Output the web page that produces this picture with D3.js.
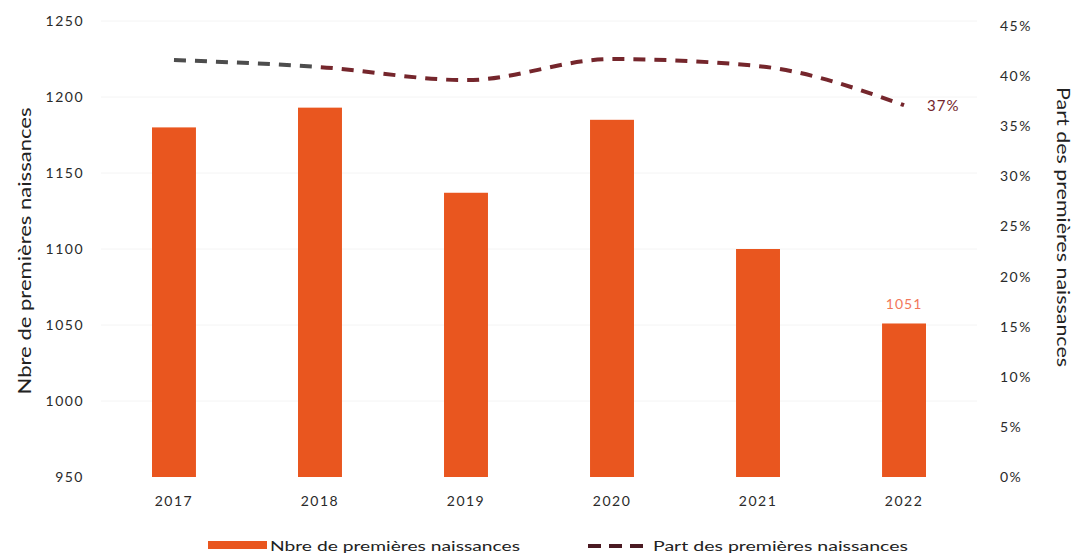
<!DOCTYPE html>
<html><head><meta charset="utf-8">
<script src="https://cdn.jsdelivr.net/npm/d3@7"></script>
<style>body{margin:0;background:#fff}svg{display:block}text{font-family:Lato,"Open Sans",sans-serif}</style>
</head><body><svg id="c" width="1076" height="558"></svg>
<script>
const years = ["2017","2018","2019","2020","2021","2022"];
const births = [1180, 1193, 1137, 1185, 1100, 1051];
const shares = [41.6, 40.9, 39.6, 41.7, 41.0, 37.1];
const leftTicks = [950,1000,1050,1100,1150,1200,1250];
const rightTicks = [0,5,10,15,20,25,30,35,40,45];

const svg = d3.select("#c");
const pTop = 21, pBottom = 477, pLeft = 101, pRight = 977;
const x = d3.scaleBand().domain(years).range([pLeft, pRight]).paddingInner(0.699).paddingOuter(0.3493);
const y = d3.scaleLinear().domain([950,1250]).range([pBottom, pTop]);
const y2 = d3.scaleLinear().domain([0,45]).range([pBottom, pTop+5]);

// gridlines
svg.append("g").selectAll("line").data(leftTicks.slice(1)).join("line")
  .attr("x1", pLeft).attr("x2", pRight).attr("y1", d=>y(d)).attr("y2", d=>y(d))
  .attr("stroke", "#f4f4f4").attr("stroke-width", 1);

const tickStyle = s => s.attr("font-size", 14).attr("fill", "#2a2a2a")
  .attr("font-family", "Lato").attr("letter-spacing", "1.5px");

// left axis
const ax = svg.append("g").attr("transform", `translate(${pLeft-17},0)`)
  .call(d3.axisLeft(y).tickValues(leftTicks).tickFormat(d3.format("d")).tickSize(0).tickPadding(0));
ax.select(".domain").remove();
ax.selectAll("text").call(tickStyle);

// right axis
const ax2 = svg.append("g").attr("transform", `translate(${pRight+23},0)`)
  .call(d3.axisRight(y2).tickValues(rightTicks).tickFormat(d=>d+"%").tickSize(0).tickPadding(0));
ax2.select(".domain").remove();
ax2.selectAll("text").call(tickStyle);

// x axis
const axx = svg.append("g").attr("transform", `translate(0,${pBottom+14})`)
  .call(d3.axisBottom(x).tickSize(0).tickPadding(5));
axx.select(".domain").remove();
axx.selectAll("text").call(tickStyle);

// bars
svg.append("g").selectAll("rect").data(years).join("rect")
  .attr("x", d=>x(d)).attr("width", x.bandwidth())
  .attr("y", (d,i)=>y(births[i])).attr("height", (d,i)=>pBottom - y(births[i]))
  .attr("fill", "#E9561F");

// bar label for last
svg.append("text").attr("x", x("2022")+x.bandwidth()/2).attr("y", y(births[5])-14)
  .attr("text-anchor","middle").attr("font-size", 14).attr("letter-spacing","1px")
  .attr("fill","#F2775A").text(births[5]);

// line
const pts = years.map((d,i)=>[x(d)+x.bandwidth()/2, y2(shares[i])]);
const lineGen = d3.line().curve(d3.curveMonotoneX);
const defs = svg.append("defs");
defs.append("clipPath").attr("id","first")
  .append("rect").attr("x",0).attr("y",0).attr("width", pts[1][0]).attr("height",558);
defs.append("clipPath").attr("id","rest")
  .append("rect").attr("x",pts[1][0]).attr("y",0).attr("width", 1076).attr("height",558);
svg.append("path").attr("d", lineGen(pts)).attr("fill","none")
  .attr("stroke","#75262C").attr("stroke-width",4).attr("stroke-dasharray","12,9")
  .attr("clip-path","url(#rest)");
svg.append("path").attr("d", lineGen(pts)).attr("fill","none")
  .attr("stroke","#4d4d4d").attr("stroke-width",4).attr("stroke-dasharray","12,9")
  .attr("clip-path","url(#first)");

svg.append("text").attr("x", pts[5][0]+23).attr("y", pts[5][1]+6)
  .attr("font-size", 15).attr("letter-spacing","1px").attr("fill","#75262C")
  .text(Math.round(shares[5])+"%");

// axis titles
svg.append("text").attr("transform","translate(31,251) rotate(-90)").attr("text-anchor","middle")
  .attr("font-size",18).attr("fill","#222").attr("textLength",287).attr("lengthAdjust","spacingAndGlyphs")
  .text("Nbre de premières naissances");
svg.append("text").attr("transform","translate(1057,227) rotate(90)").attr("text-anchor","middle")
  .attr("font-size",17).attr("fill","#222").attr("textLength",280).attr("lengthAdjust","spacingAndGlyphs")
  .text("Part des premières naissances");

// legend
svg.append("rect").attr("x",208).attr("y",541).attr("width",59).attr("height",8).attr("fill","#E9561F");
svg.append("text").attr("x",270).attr("y",551).attr("font-size",12.5).attr("fill","#222")
  .attr("textLength",250).attr("lengthAdjust","spacingAndGlyphs").text("Nbre de premières naissances");
svg.append("line").attr("x1",588).attr("x2",644).attr("y1",546).attr("y2",546)
  .attr("stroke","#4a1a22").attr("stroke-width",4).attr("stroke-dasharray","13,8");
svg.append("text").attr("x",653).attr("y",551).attr("font-size",12.5).attr("fill","#222")
  .attr("textLength",255).attr("lengthAdjust","spacingAndGlyphs").text("Part des premières naissances");
</script></body></html>
